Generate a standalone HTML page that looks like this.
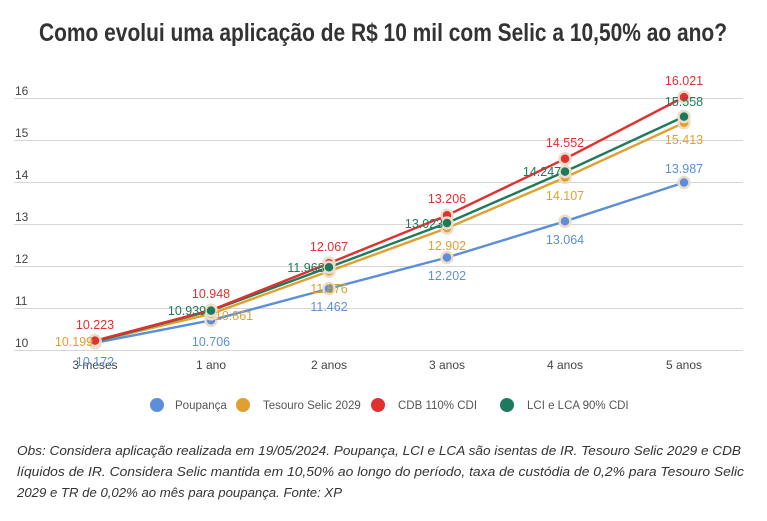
<!DOCTYPE html>
<html><head><meta charset="utf-8"><style>
html,body{margin:0;padding:0;background:#fff;}
svg{display:block;font-family:"Liberation Sans",sans-serif;}
.n{font-size:12.5px;}
</style></head><body>
<svg width="767" height="521" viewBox="0 0 767 521">
<text x="383" y="41" text-anchor="middle" font-size="25" font-weight="bold" fill="#333" textLength="688" lengthAdjust="spacingAndGlyphs">Como evolui uma aplicação de R$ 10 mil com Selic a 10,50% ao ano?</text>
<g stroke="#d6d6d6" stroke-width="1">
<line x1="14" y1="98.5" x2="743" y2="98.5"/><line x1="14" y1="140.5" x2="743" y2="140.5"/>
<line x1="14" y1="182.5" x2="743" y2="182.5"/><line x1="14" y1="224.5" x2="743" y2="224.5"/>
<line x1="14" y1="266.5" x2="743" y2="266.5"/><line x1="14" y1="308.5" x2="743" y2="308.5"/>
<line x1="14" y1="350.5" x2="743" y2="350.5"/>
</g>
<g fill="#444" font-size="12">
<text x="15" y="95">16</text><text x="15" y="137">15</text><text x="15" y="179">14</text>
<text x="15" y="221">13</text><text x="15" y="263">12</text><text x="15" y="305">11</text><text x="15" y="347">10</text>
</g>
<g fill="#444" font-size="12" text-anchor="middle">
<text x="95" y="369">3 meses</text><text x="211" y="369">1 ano</text><text x="329" y="369">2 anos</text>
<text x="447" y="369">3 anos</text><text x="565" y="369">4 anos</text><text x="684" y="369">5 anos</text>
</g>
<g fill="none" stroke-width="2.4">
<polyline stroke="#5b8fd9" points="95,342.8 211,320.3 329,288.6 447,257.5 565,221.3 684,182.5"/>
<polyline stroke="#e0a030" points="95,341.6 211,313.8 329,271.2 447,228.1 565,177.5 684,122.7"/>
<polyline stroke="#1f7a5c" points="95,341.6 211,310.6 329,267.3 447,223 565,171.6 684,116.6"/>
<polyline stroke="#e03030" points="95,340.6 211,310.2 329,263.2 447,215.3 565,158.8 684,97.1"/>
</g>
<g stroke="#ecdcc8" stroke-width="2.5">
<g fill="#5b8fd9"><circle cx="95" cy="342.8" r="5.5"/><circle cx="211" cy="320.3" r="5.5"/><circle cx="329" cy="288.6" r="5.5"/><circle cx="447" cy="257.5" r="5.5"/><circle cx="565" cy="221.3" r="5.5"/><circle cx="684" cy="182.5" r="5.5"/></g>
<g fill="#e0a030"><circle cx="95" cy="341.6" r="5.5"/><circle cx="211" cy="313.8" r="5.5"/><circle cx="329" cy="271.2" r="5.5"/><circle cx="447" cy="228.1" r="5.5"/><circle cx="565" cy="177.5" r="5.5"/><circle cx="684" cy="122.7" r="5.5"/></g>
<g fill="#e03030"><circle cx="95" cy="340.6" r="5.5"/><circle cx="211" cy="310.2" r="5.5"/><circle cx="329" cy="263.2" r="5.5"/><circle cx="447" cy="215.3" r="5.5"/><circle cx="565" cy="158.8" r="5.5"/><circle cx="684" cy="97.1" r="5.5"/></g>
<g fill="#1f7a5c"><circle cx="211" cy="310.6" r="5.5"/><circle cx="329" cy="267.3" r="5.5"/><circle cx="447" cy="223" r="5.5"/><circle cx="565" cy="171.6" r="5.5"/><circle cx="684" cy="116.6" r="5.5"/></g>
</g>
<g class="n" text-anchor="middle">
<g fill="#5b8fd9"><text x="95" y="366">10.172</text><text x="211" y="346">10.706</text><text x="329" y="311">11.462</text><text x="447" y="280">12.202</text><text x="565" y="244">13.064</text><text x="684" y="173">13.987</text></g>
<g fill="#e0a030"><text x="74" y="346">10.199</text><text x="234" y="320">10.861</text><text x="329" y="293">11.876</text><text x="447" y="250">12.902</text><text x="565" y="200">14.107</text><text x="684" y="144">15.413</text></g>
<g fill="#e03030"><text x="95" y="329">10.223</text><text x="211" y="298">10.948</text><text x="329" y="251">12.067</text><text x="447" y="203">13.206</text><text x="565" y="147">14.552</text><text x="684" y="85">16.021</text></g>
<g fill="#1f7a5c"><text x="187" y="315">10.939</text><text x="306" y="272">11.968</text><text x="424" y="228">13.023</text><text x="542" y="176">14.247</text><text x="684" y="106">15.558</text></g>
</g>
<g font-size="11.5" fill="#555">
<circle cx="157" cy="405" r="7" fill="#5b8fd9"/><text x="175" y="409">Poupança</text>
<circle cx="243" cy="405" r="7" fill="#e0a030"/><text x="263" y="409">Tesouro Selic 2029</text>
<circle cx="378" cy="405" r="7" fill="#e03030"/><text x="398" y="409">CDB 110% CDI</text>
<circle cx="507" cy="405" r="7" fill="#1f7a5c"/><text x="527" y="409">LCI e LCA 90% CDI</text>
</g>
<g font-size="13" font-style="italic" fill="#333">
<text x="17" y="455" textLength="724" lengthAdjust="spacingAndGlyphs">Obs: Considera aplicação realizada em 19/05/2024. Poupança, LCI e LCA são isentas de IR. Tesouro Selic 2029 e CDB</text>
<text x="17" y="476" textLength="727" lengthAdjust="spacingAndGlyphs">líquidos de IR. Considera Selic mantida em 10,50% ao longo do período, taxa de custódia de 0,2% para Tesouro Selic</text>
<text x="17" y="497" textLength="325" lengthAdjust="spacingAndGlyphs">2029 e TR de 0,02% ao mês para poupança. Fonte: XP</text>
</g>
</svg>
</body></html>
